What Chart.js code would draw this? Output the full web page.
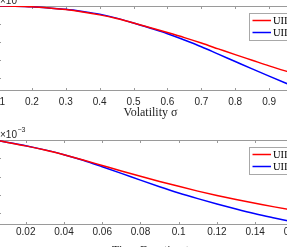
<!DOCTYPE html>
<html>
<head>
<meta charset="utf-8">
<script src="https://cdn.jsdelivr.net/npm/chart.js@4"></script>
<style>
  html, body { margin: 0; padding: 0; background: #fff; overflow: hidden; }
  #wrap { position: relative; width: 287px; height: 247px; overflow: hidden; }
  canvas { position: absolute; left: -40px; }
</style>
</head>
<body>
<div id="wrap">
  <canvas id="volChart" width="380" height="125" style="top:0"></canvas>
  <canvas id="timeChart" width="380" height="140" style="top:125px"></canvas>
</div>
<script>
// top panel: price vs volatility sigma (values in units of 1e-3)
const sigma = [0.10, 0.15, 0.20, 0.25, 0.30, 0.35, 0.40, 0.45, 0.50, 0.55, 0.60, 0.65, 0.70, 0.75, 0.80, 0.85, 0.90, 0.95, 1.00];
const sigmaRed = [5.00, 4.99, 4.96, 4.89, 4.80, 4.67, 4.51, 4.31, 4.06, 3.80, 3.53, 3.25, 2.95, 2.63, 2.31, 2.00, 1.69, 1.40, 1.12];
const sigmaBlue = [5.00, 4.99, 4.96, 4.89, 4.82, 4.70, 4.55, 4.33, 4.06, 3.77, 3.47, 3.12, 2.75, 2.34, 1.93, 1.52, 1.12, 0.73, 0.35];
const sigmaTicks = [0.1, 0.2, 0.3, 0.4, 0.5, 0.6, 0.7, 0.8, 0.9, 1.0];

// bottom panel: price vs time duration t
const tDur = [0.005, 0.01, 0.02, 0.03, 0.04, 0.05, 0.06, 0.07, 0.08, 0.09, 0.10, 0.11, 0.12, 0.13, 0.14, 0.15, 0.16, 0.165];
const tRed = [4.98, 4.88, 4.68, 4.45, 4.19, 3.91, 3.61, 3.31, 3.02, 2.74, 2.47, 2.21, 1.97, 1.75, 1.55, 1.35, 1.16, 1.07];
const tBlue = [4.98, 4.88, 4.69, 4.46, 4.20, 3.89, 3.54, 3.18, 2.81, 2.45, 2.11, 1.80, 1.51, 1.23, 0.97, 0.74, 0.52, 0.42];
const tTicks = [0, 0.02, 0.04, 0.06, 0.08, 0.1, 0.12, 0.14, 0.16];

const yTicks = [1, 2, 3, 4, 5];
const seriesNames = ['UIIP-MC', 'UIIP-Approx'];
const seriesColors = ['#ff0000', '#0000ff'];

Chart.defaults.font.family = 'Liberation Sans';

// matlab style box, inward ticks, legend and exponent label
const matlabBox = {
  id: 'matlabBox',
  beforeDatasetsDraw(chart) {
    const { ctx, chartArea: a, scales: { x, y } } = chart;
    ctx.save();
    ctx.strokeStyle = '#9a9a9a';
    ctx.lineWidth = 1;
    ctx.beginPath();
    ctx.moveTo(a.left, a.top + 0.5); ctx.lineTo(a.right, a.top + 0.5);
    ctx.moveTo(a.left, a.bottom - 0.5); ctx.lineTo(a.right, a.bottom - 0.5);
    ctx.moveTo(a.left + 0.5, a.top); ctx.lineTo(a.left + 0.5, a.bottom);
    ctx.moveTo(a.right - 0.5, a.top); ctx.lineTo(a.right - 0.5, a.bottom);
    x.ticks.forEach(t => {
      const px = Math.round(x.getPixelForValue(t.value)) + 0.5;
      if (px < a.left || px > a.right) return;
      ctx.moveTo(px, a.bottom); ctx.lineTo(px, a.bottom - 3);
      ctx.moveTo(px, a.top); ctx.lineTo(px, a.top + 3);
    });
    yTicks.forEach(v => {
      const py = Math.round(y.getPixelForValue(v)) + 0.5;
      if (py < a.top || py > a.bottom) return;
      ctx.moveTo(a.left, py); ctx.lineTo(a.left + 3, py);
      ctx.moveTo(a.right, py); ctx.lineTo(a.right - 3, py);
    });
    ctx.stroke();
    ctx.restore();
  },
  afterDatasetsDraw(chart) {
    const { ctx, chartArea: a } = chart;
    ctx.save();
    // exponent label
    ctx.fillStyle = '#262626';
    ctx.textBaseline = 'alphabetic';
    ctx.textAlign = 'left';
    ctx.font = '10px "Liberation Sans"';
    const ex = a.left + 2, ey = a.top - 2;
    ctx.fillText('\u00d710', ex, ey);
    const w = ctx.measureText('\u00d710').width;
    ctx.font = '7px "Liberation Sans"';
    ctx.fillText('\u22123', ex + w + 0.5, ey - 6.3);
    // legend
    const bx = Math.round(a.right - 54.5) + 0.5, by = Math.round(a.top + 7) + 0.5;
    ctx.fillStyle = '#fff';
    ctx.fillRect(bx, by, 120, 27);
    ctx.strokeStyle = '#a8a8a8';
    ctx.lineWidth = 1;
    ctx.strokeRect(bx, by, 120, 27);
    ctx.font = '10.5px "Liberation Serif"';
    ctx.textBaseline = 'middle';
    chart.data.datasets.forEach((ds, i) => {
      const ly = by + 7 + i * 12;
      ctx.strokeStyle = ds.borderColor;
      ctx.lineWidth = 1.5;
      ctx.beginPath();
      ctx.moveTo(bx + 3, ly); ctx.lineTo(bx + 21.5, ly);
      ctx.stroke();
      ctx.fillStyle = '#000';
      ctx.fillText(ds.label, bx + 23.5, ly + 0.5);
    });
    ctx.restore();
  }
};

function makeChart(id, xs, red, blue, o) {
  return new Chart(document.getElementById(id), {
    type: 'line',
    data: {
      datasets: [
        { label: seriesNames[0], data: xs.map((x, i) => ({ x, y: red[i] })), borderColor: seriesColors[0] },
        { label: seriesNames[1], data: xs.map((x, i) => ({ x, y: blue[i] })), borderColor: seriesColors[1] }
      ]
    },
    options: {
      responsive: false,
      animation: false,
      devicePixelRatio: 1,
      layout: { padding: { left: 38, right: 37, top: o.top, bottom: 0 } },
      elements: {
        point: { radius: 0 },
        line: { borderWidth: 1.5, cubicInterpolationMode: 'monotone', fill: false }
      },
      plugins: { legend: { display: false }, tooltip: { enabled: false } },
      scales: {
        x: {
          type: 'linear',
          min: o.xMin,
          max: o.xMax,
          grid: { display: false, drawTicks: false },
          border: { display: false },
          afterBuildTicks: s => { s.ticks = o.ticks.map(v => ({ value: v })); },
          afterFit: s => { s.height = o.scaleH; },
          ticks: {
            padding: o.tickPad,
            color: '#262626',
            autoSkip: false,
            maxRotation: 0,
            font: { size: 10 },
            callback: v => String(+v.toFixed(2))
          },
          title: {
            display: true,
            text: o.title,
            color: '#262626',
            font: { family: 'Liberation Serif', size: 12 },
            padding: { top: 0, bottom: o.titlePad }
          }
        },
        y: { display: false, min: o.yMin, max: o.yMax }
      }
    },
    plugins: [matlabBox]
  });
}

makeChart('volChart', sigma, sigmaRed, sigmaBlue, {
  top: 6, xMin: 0.1, xMax: 1.0, yMin: 0.30, yMax: 5.0, ticks: sigmaTicks,
  scaleH: 34, tickPad: 5, title: 'Volatility \u03c3', titlePad: 5.0
});
makeChart('timeChart', tDur, tRed, tBlue, {
  top: 15, xMin: 0.0055, xMax: 0.165, yMin: 0.36, yMax: 5.0, ticks: tTicks,
  scaleH: 40, tickPad: 1, title: 'Time Duration t', titlePad: 6.8
});
</script>
</body>
</html>
